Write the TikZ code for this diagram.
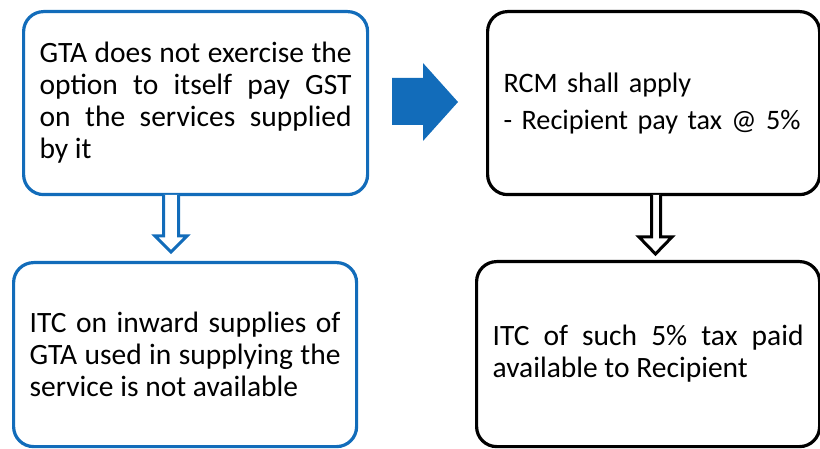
\documentclass[tikz,border=0pt]{standalone}
\usepackage{fontspec}
\setmainfont{Carlito}
\definecolor{myblue}{RGB}{18,108,186}
\tikzset{
  box/.style={draw, rounded corners=20pt, line width=3.2pt, fill=white,
    inner xsep=16pt, inner ysep=0pt, anchor=north west,
    font=\fontsize{29.5}{32}\selectfont},
  bluebox/.style={box, draw=myblue},
  blackbox/.style={box, draw=black},
  hollow/.style={line width=3pt, fill=white, line join=miter},
}
\begin{document}
\begin{tikzpicture}[x=1pt,y=-1pt]
\useasboundingbox (0,0) rectangle (820,449);
% boxes
\node[bluebox, minimum width=344pt, minimum height=183pt, text width=312pt, align=justify] (tl) at (22,10)
  {GTA does not exercise the\linebreak option to itself pay GST\linebreak on the services supplied\linebreak by it};
\node[blackbox, minimum width=332pt, minimum height=183pt, text width=300pt, align=left, font=\fontsize{28.2}{32}\selectfont] (tr) at (486,10)
  {RCM shall apply\\[5pt]- Recipient pay tax @ 5\%};
\node[bluebox, minimum width=343pt, minimum height=184pt, text width=311pt, align=justify] (bl) at (12,261)
  {ITC on inward supplies of\linebreak GTA used in supplying the\linebreak service is not available};
\node[blackbox, minimum width=343pt, minimum height=185pt, text width=311pt, align=justify] (br) at (475,260)
  {ITC of such 5\% tax paid\linebreak available to Recipient};
% big blue arrow
\fill[myblue] (392,78) -- (423,78) -- (423,63) -- (458,102) -- (423,141) -- (423,125) -- (392,125) -- cycle;
% hollow blue down arrow
\draw[hollow, draw=myblue] (163.5,195) -- (163.5,236) -- (155,236) -- (171,252) -- (187,236) -- (178.5,236) -- (178.5,195);
% hollow black down arrow
\draw[hollow, draw=black] (651.5,195) -- (651.5,237) -- (639,237) -- (655.5,254) -- (672,237) -- (660.5,237) -- (660.5,195);
\end{tikzpicture}
\end{document}
